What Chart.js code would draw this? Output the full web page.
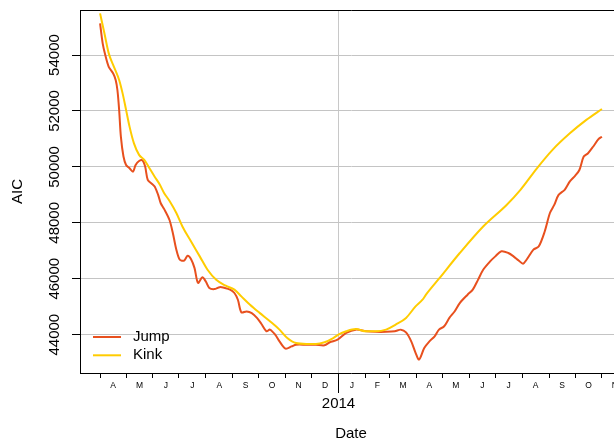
<!DOCTYPE html>
<html>
<head>
<meta charset="utf-8">
<title>AIC by date</title>
<script src="https://cdn.jsdelivr.net/npm/chart.js@4.4.0/dist/chart.umd.min.js"></script>
<style>
  html, body { margin: 0; padding: 0; background: #fff; overflow: hidden; }
  #wrap { width: 640px; height: 443px; }
</style>
</head>
<body>
<div id="wrap"><canvas id="aicChart" width="640" height="443"></canvas></div>
<script>
// values
const jumpDates = [
    '2013-04-01', '2013-04-04', '2013-04-07', '2013-04-11', '2013-04-16', '2013-04-19', '2013-04-21', '2013-04-23', '2013-04-25', '2013-04-28',
    '2013-05-01', '2013-05-05', '2013-05-09', '2013-05-12', '2013-05-16', '2013-05-20', '2013-05-23', '2013-05-26', '2013-05-31',
    '2013-06-03', '2013-06-07', '2013-06-10', '2013-06-14', '2013-06-20', '2013-06-24', '2013-06-28',
    '2013-07-02', '2013-07-07', '2013-07-11', '2013-07-15', '2013-07-19', '2013-07-23', '2013-07-28',
    '2013-08-01', '2013-08-05', '2013-08-11', '2013-08-17', '2013-08-23', '2013-08-29',
    '2013-09-03', '2013-09-07', '2013-09-11', '2013-09-17', '2013-09-23', '2013-09-29',
    '2013-10-04', '2013-10-10', '2013-10-14', '2013-10-20', '2013-10-25',
    '2013-11-01', '2013-11-08', '2013-11-13', '2013-11-25',
    '2013-12-06', '2013-12-16', '2013-12-22', '2013-12-31',
    '2014-01-10', '2014-01-21',
    '2014-02-02', '2014-02-13', '2014-02-25',
    '2014-03-07', '2014-03-14', '2014-03-20', '2014-03-26', '2014-03-31',
    '2014-04-04', '2014-04-10', '2014-04-16', '2014-04-22', '2014-04-27',
    '2014-05-03', '2014-05-09', '2014-05-15', '2014-05-21', '2014-05-30',
    '2014-06-05', '2014-06-11', '2014-06-17', '2014-06-25',
    '2014-07-01', '2014-07-08', '2014-07-16', '2014-07-22', '2014-07-28',
    '2014-08-02', '2014-08-06', '2014-08-14', '2014-08-20', '2014-08-27',
    '2014-09-02', '2014-09-07', '2014-09-12', '2014-09-19', '2014-09-25',
    '2014-10-01', '2014-10-06', '2014-10-11', '2014-10-16', '2014-10-22', '2014-10-28',
    '2014-11-01'
];
const jumpAIC = [
    55130, 54420, 54000, 53580, 53350, 53110, 52750, 52040, 51080, 50370,
    50070, 49950, 49830, 50070, 50210, 50230, 50010, 49540, 49390,
    49300, 49000, 48700, 48490, 48110, 47630, 47040,
    46680, 46650, 46820, 46700, 46380, 45850, 46050,
    45900, 45670, 45630, 45700, 45670, 45610,
    45490, 45250, 44800, 44830, 44770, 44600,
    44390, 44120, 44180, 44000, 43760,
    43500, 43580, 43640, 43640,
    43640, 43620, 43730, 43820,
    44060, 44180,
    44120, 44100, 44100,
    44120, 44180, 44080, 43760, 43350,
    43110, 43520, 43760, 43940, 44180,
    44300, 44600, 44830, 45130, 45430,
    45610, 45960, 46320, 46620,
    46800, 46980, 46920, 46800, 46650,
    46540, 46680, 47040, 47150, 47690,
    48350, 48640, 49000, 49180, 49480,
    49680, 49890, 50370, 50490, 50730, 50990,
    51080
];
const kinkDates = [
    '2013-04-01', '2013-04-06', '2013-04-11', '2013-04-17', '2013-04-23', '2013-04-27',
    '2013-05-01', '2013-05-05', '2013-05-10', '2013-05-16', '2013-05-22', '2013-05-28',
    '2013-06-03', '2013-06-09', '2013-06-14', '2013-06-20', '2013-06-28',
    '2013-07-05', '2013-07-15', '2013-07-25',
    '2013-08-03', '2013-08-13', '2013-08-24',
    '2013-09-03', '2013-09-11', '2013-09-21',
    '2013-10-02', '2013-10-14', '2013-10-25',
    '2013-11-03', '2013-11-13', '2013-11-25',
    '2013-12-06', '2013-12-16', '2013-12-26',
    '2014-01-01', '2014-01-10', '2014-01-21',
    '2014-02-02', '2014-02-13', '2014-02-25',
    '2014-03-08', '2014-03-20', '2014-03-31',
    '2014-04-08', '2014-04-12', '2014-04-27',
    '2014-05-21', '2014-06-17', '2014-07-14', '2014-07-30',
    '2014-08-18', '2014-09-05', '2014-09-25', '2014-10-14', '2014-11-01'
];
const kinkAIC = [
    55490, 54780, 54060, 53580, 53110, 52630,
    52040, 51440, 50850, 50430, 50250, 49950,
    49650, 49360, 49060, 48790, 48350,
    47870, 47330, 46800,
    46320, 45960, 45750,
    45610, 45370, 45070,
    44780, 44480, 44180,
    43880, 43700, 43670,
    43670, 43730, 43880,
    44000, 44120, 44200,
    44120, 44120, 44180,
    44360, 44600, 45010,
    45250, 45430, 46000,
    46920, 47870, 48640, 49180,
    49950, 50610, 51200, 51680, 52070
];
const monthTicks = [
    '2013-04-01', '2013-05-01', '2013-06-01', '2013-07-01', '2013-08-01', '2013-09-01', '2013-10-01',
    '2013-11-01', '2013-12-01', '2014-01-01', '2014-02-01', '2014-03-01', '2014-04-01', '2014-05-01',
    '2014-06-01', '2014-07-01', '2014-08-01', '2014-09-01', '2014-10-01', '2014-11-01', '2014-12-01'
];
const monthLabels = ['A', 'M', 'J', 'J', 'A', 'S', 'O', 'N', 'D', 'J', 'F', 'M', 'A', 'M', 'J', 'J', 'A', 'S', 'O', 'N'];
const yearMark = '2014-01-01';
const yTicks = [44000, 46000, 48000, 50000, 52000, 54000];

const DAY = 86400000;
function toDay(s) {
    const p = s.split('-');
    return Date.UTC(+p[0], +p[1] - 1, +p[2]) / DAY;
}

const startDays = monthTicks.map(toDay);
const midLabel = {};
for (let i = 0; i < monthLabels.length; i++) {
    midLabel[(startDays[i] + startDays[i + 1]) / 2] = monthLabels[i];
}
const yearDay = toDay(yearMark);

// R style 4% padding round the first series
const firstDay = toDay(jumpDates[0]);
const lastDay = toDay(jumpDates[jumpDates.length - 1]);
const xPad = (lastDay - firstDay) * 0.04;
const yLo = Math.min(...jumpAIC), yHi = Math.max(...jumpAIC);
const yPad = (yHi - yLo) * 0.04;

const FONT = '"Liberation Sans", Arial, Helvetica, sans-serif';
Chart.defaults.font.family = FONT;
Chart.defaults.color = '#000';

const frame = {
    id: 'frame',
    afterDraw(chart) {
        const { ctx, chartArea: a, scales: { x } } = chart;
        ctx.save();
        ctx.strokeStyle = '#000';
        ctx.lineWidth = 1;
        ctx.beginPath();
        ctx.moveTo(a.left, a.top + 0.5);
        ctx.lineTo(a.right + 0.5, a.top + 0.5);
        ctx.lineTo(a.right + 0.5, a.bottom);
        ctx.stroke();

        // long tick at the year change and its label
        const yx = Math.round(x.getPixelForValue(yearDay)) + 0.5;
        ctx.beginPath();
        ctx.moveTo(yx, a.bottom);
        ctx.lineTo(yx, a.bottom + 20);
        ctx.stroke();
        ctx.fillStyle = '#000';
        ctx.font = '15px ' + FONT;
        ctx.textAlign = 'center';
        ctx.textBaseline = 'middle';
        ctx.fillText(yearMark.slice(0, 4), yx, a.bottom + 31);

        // legend, bottom left inside the box
        ctx.textAlign = 'left';
        chart.data.datasets.forEach(function (ds, i) {
            const ly = a.bottom - 36 + i * 18.3;
            ctx.strokeStyle = ds.borderColor;
            ctx.lineWidth = 2;
            ctx.beginPath();
            ctx.moveTo(a.left + 13, ly);
            ctx.lineTo(a.left + 41, ly);
            ctx.stroke();
            ctx.fillText(ds.label, a.left + 53, ly);
        });
        ctx.restore();
    }
};

const config = {
    type: 'line',
    data: {
        datasets: [{
            label: 'Jump',
            data: jumpDates.map((d, i) => ({ x: toDay(d), y: jumpAIC[i] })),
            borderColor: '#E8501E',
            borderWidth: 2,
            pointRadius: 0,
            tension: 0.3,
            order: 2
        }, {
            label: 'Kink',
            data: kinkDates.map((d, i) => ({ x: toDay(d), y: kinkAIC[i] })),
            borderColor: '#FFCC00',
            borderWidth: 2,
            pointRadius: 0,
            cubicInterpolationMode: 'monotone',
            order: 1
        }]
    },
    options: {
        responsive: false,
        animation: false,
        devicePixelRatio: 1,
        layout: { padding: { top: 10, right: 18, left: 0, bottom: 0 } },
        plugins: {
            legend: { display: false },
            tooltip: { enabled: false }
        },
        scales: {
            x: {
                type: 'linear',
                min: firstDay - xPad,
                max: lastDay + xPad,
                afterBuildTicks: function (scale) {
                    const vals = startDays.concat(Object.keys(midLabel).map(Number))
                        .filter(v => v >= scale.min && v <= scale.max)
                        .sort((a, b) => a - b);
                    scale.ticks = vals.map(v => ({ value: v }));
                },
                afterFit: function (scale) { scale.height = 70; },
                ticks: {
                    autoSkip: false,
                    minRotation: 0,
                    maxRotation: 0,
                    padding: 3,
                    font: { size: 8.5 },
                    callback: v => midLabel[v] || ''
                },
                grid: {
                    drawOnChartArea: true,
                    tickLength: 5,
                    color: c => (c.tick && c.tick.value === yearDay) ? '#c8c8c8' : 'rgba(0,0,0,0)',
                    tickColor: c => (c.tick && startDays.includes(c.tick.value)) ? '#000' : 'rgba(0,0,0,0)'
                },
                border: { color: '#000', width: 1 },
                title: { display: true, text: 'Date', font: { size: 15 }, padding: { top: 0, bottom: 0 } }
            },
            y: {
                min: yLo - yPad,
                max: yHi + yPad,
                afterBuildTicks: function (scale) {
                    scale.ticks = yTicks.map(v => ({ value: v }));
                },
                afterFit: function (scale) { scale.width = 80; },
                ticks: {
                    minRotation: 90,
                    maxRotation: 90,
                    crossAlign: 'center',
                    padding: -4,
                    font: { size: 15 },
                    callback: v => String(v)
                },
                grid: { color: '#c4c4c4', tickColor: '#000', tickLength: 8 },
                border: { color: '#000', width: 1 },
                title: { display: true, text: 'AIC', font: { size: 15 }, padding: { top: 9, bottom: 0 } }
            }
        }
    },
    plugins: [frame]
};

const aicChart = new Chart(document.getElementById('aicChart'), config);
</script>
</body>
</html>
